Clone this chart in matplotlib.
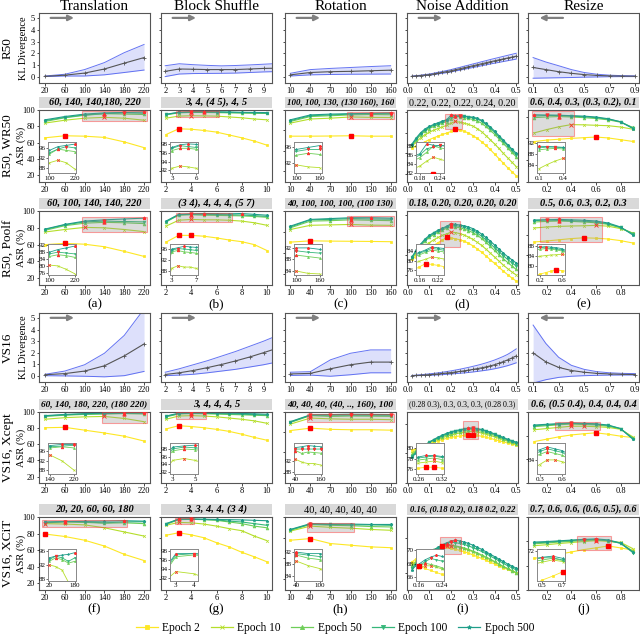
import numpy as np
import matplotlib
matplotlib.use("Agg")
import matplotlib.pyplot as plt
from matplotlib.patches import Rectangle
from matplotlib.lines import Line2D

plt.rcParams['font.family'] = ['Liberation Serif', 'DejaVu Serif']

# ---- x values per transform ----
trans_x = [20, 60, 100, 140, 180, 220]
block_x = [2, 3, 4, 5, 6, 7, 8, 9, 10]
rot_x = [10, 40, 70, 100, 130, 160]
noise_x = [0.02, 0.04, 0.06, 0.08, 0.10, 0.12, 0.14, 0.16, 0.18, 0.20, 0.22, 0.24, 0.26,
           0.28, 0.30, 0.32, 0.34, 0.36, 0.38, 0.40, 0.42, 0.44, 0.46, 0.48, 0.50]
resize_x = [0.1, 0.2, 0.3, 0.4, 0.5, 0.6, 0.7, 0.8, 0.9]

titles = ["Translation", "Block Shuffle", "Rotation", "Noise Addition", "Resize"]
epochs = ["Epoch 2", "Epoch 10", "Epoch 50", "Epoch 100", "Epoch 500"]

# ---- KL divergence: [mean, upper, lower] ----
kl_r50_trans = [[0.02, 0.12, 0.3, 0.65, 1.15, 1.63],
                [0.05, 0.2, 0.6, 1.2, 2.05, 2.75],
                [0.0, 0.05, 0.05, 0.15, 0.35, 0.56]]
kl_r50_block = [[0.45, 0.65, 0.63, 0.6, 0.6, 0.6, 0.65, 0.7, 0.72],
                [0.93, 1.1, 1.02, 0.96, 0.92, 0.95, 1.0, 1.06, 1.12],
                [0.0, 0.22, 0.26, 0.27, 0.28, 0.3, 0.35, 0.4, 0.43]]
kl_r50_rot = [[0.15, 0.35, 0.42, 0.45, 0.5, 0.55],
              [0.28, 0.6, 0.7, 0.78, 0.86, 0.93],
              [0.05, 0.15, 0.18, 0.2, 0.21, 0.22]]
kl_r50_noise = [[0.02, 0.06, 0.09, 0.13, 0.17, 0.23, 0.3, 0.36, 0.43, 0.5, 0.59, 0.67, 0.76,
                 0.84, 0.93, 1.01, 1.1, 1.18, 1.27, 1.35, 1.43, 1.51, 1.59, 1.67, 1.75],
                [0.04, 0.08, 0.12, 0.17, 0.22, 0.29, 0.37, 0.44, 0.52, 0.6, 0.7, 0.79, 0.89,
                 0.98, 1.08, 1.17, 1.27, 1.36, 1.46, 1.55, 1.64, 1.73, 1.82, 1.91, 2.0],
                [0.0, 0.04, 0.06, 0.09, 0.12, 0.17, 0.23, 0.28, 0.34, 0.4, 0.48, 0.55, 0.63,
                 0.7, 0.78, 0.85, 0.93, 1.0, 1.08, 1.15, 1.22, 1.29, 1.36, 1.43, 1.5]]
kl_r50_resize = [[0.78, 0.6, 0.42, 0.28, 0.17, 0.1, 0.06, 0.04, 0.03],
                 [1.63, 1.25, 0.93, 0.6, 0.35, 0.2, 0.12, 0.08, 0.06],
                 [-0.14, -0.12, -0.1, -0.08, -0.05, -0.03, -0.01, 0.0, 0.0]]

kl_vs16_trans = [[0.08, 0.18, 0.4, 0.86, 1.72, 2.76],
                 [0.12, 0.4, 0.95, 1.95, 3.5, 5.8],
                 [0.0, -0.02, -0.05, -0.1, 0.0, 0.37]]
kl_vs16_block = [[0.1, 0.25, 0.45, 0.7, 0.97, 1.28, 1.62, 2.0, 2.4],
                 [0.3, 0.6, 0.95, 1.3, 1.7, 2.1, 2.55, 3.0, 3.5],
                 [0.0, 0.05, 0.12, 0.25, 0.4, 0.55, 0.75, 0.95, 1.2]]
kl_vs16_rot = [[0.15, 0.2, 0.6, 0.95, 1.18, 1.18],
               [0.3, 0.35, 1.38, 1.95, 2.24, 2.24],
               [0.02, 0.05, -0.05, 0.08, 0.25, 0.25]]
kl_vs16_noise = [[0.0, 0.02, 0.04, 0.06, 0.09, 0.12, 0.15, 0.19, 0.23, 0.27, 0.32, 0.37, 0.42,
                  0.48, 0.54, 0.61, 0.68, 0.76, 0.85, 0.95, 1.08, 1.22, 1.37, 1.54, 1.72],
                 [0.02, 0.05, 0.08, 0.12, 0.16, 0.2, 0.25, 0.3, 0.36, 0.42, 0.49, 0.56, 0.64,
                  0.72, 0.81, 0.9, 1.0, 1.11, 1.23, 1.36, 1.51, 1.67, 1.85, 2.08, 2.33],
                 [0.0, 0.0, 0.01, 0.02, 0.03, 0.05, 0.07, 0.09, 0.12, 0.15, 0.18, 0.21, 0.24,
                  0.28, 0.32, 0.37, 0.42, 0.47, 0.53, 0.6, 0.68, 0.77, 0.87, 0.99, 1.12]]
kl_vs16_resize = [[1.98, 1.2, 0.72, 0.45, 0.3, 0.2, 0.15, 0.12, 0.1],
                  [4.4, 2.8, 1.6, 0.9, 0.55, 0.35, 0.25, 0.2, 0.18],
                  [-0.65, -0.35, -0.15, -0.05, 0.0, 0.03, 0.05, 0.06, 0.06]]

# ---- ASR (%) per epoch: [E2, E10, E50, E100, E500] ----
wr50_trans = [[66, 68.5, 68, 66.5, 61, 54],
              [84, 87.5, 90, 91, 90, 87.5],
              [86, 90.5, 93.5, 95.5, 95, 94.5],
              [87, 91, 94, 95.5, 96.5, 96],
              [88, 92, 95, 96.5, 97, 97.5]]
wr50_block = [[70, 77, 76.5, 75, 73, 69.5, 66, 62, 57],
              [90, 92.5, 93, 92.8, 92.5, 91.5, 90.5, 89, 88],
              [94, 96.5, 97, 97, 96.8, 96.5, 96.2, 96, 95.8],
              [94.5, 97, 97.6, 97.4, 97.2, 97, 96.8, 96.5, 96.2],
              [94.8, 97.2, 97.8, 98, 97.9, 97.6, 97.2, 97, 96.8]]
wr50_rot = [[68, 68, 68.2, 68.5, 68, 68],
            [84, 89, 90, 91.5, 91, 90.8],
            [86, 92, 93, 94, 94.5, 94.2],
            [87, 93, 94, 95, 95.5, 95.5],
            [88, 94, 95, 95.5, 96, 96.5]]
wr50_noise = [[72.5, 73.5, 74.6, 75.6, 76.6, 77.5, 78.3, 79.1, 79.8, 80.6, 81.6, 81.2, 80.7,
               79.8, 78.6, 77.2, 75.6, 73.8, 71.8, 69.6, 67.4, 65.2, 63, 61, 59],
              [73.5, 75.5, 77.5, 79, 80.2, 81.2, 82, 82.8, 83.5, 84.6, 85.5, 85, 84.6,
               84, 83.2, 82, 80.5, 78.6, 76.6, 74.5, 72.3, 70, 67.8, 65.6, 63.5],
              [74, 76.5, 79, 80.8, 82, 83, 83.8, 84.6, 85.4, 86.6, 88, 87.6, 87.3,
               86.9, 86.4, 85.7, 84.6, 83, 81.2, 79.2, 77, 74.8, 72.6, 70.4, 68.2],
              [74, 77, 79.5, 81.3, 82.6, 83.6, 84.4, 85.2, 86, 87.4, 87.8, 88.2, 88,
               87.6, 87.2, 86.6, 85.6, 84, 82.2, 80.2, 78, 75.8, 73.6, 71.4, 69.2],
              [74.5, 77.5, 80, 81.8, 83, 84, 84.8, 85.6, 86.3, 88.5, 88.2, 88.1, 88,
               87.8, 87.5, 87, 86, 84.5, 82.8, 80.8, 78.6, 76.4, 74.2, 72, 70]]
wr50_resize = [[78.5, 79.2, 79.6, 80, 80.3, 80.6, 80.2, 79.4, 78.6],
               [82.5, 84, 85.3, 86.3, 86.2, 86, 85.8, 85.2, 84.2],
               [89.5, 89.8, 90, 89.8, 89.5, 89.1, 88.5, 87.4, 85],
               [90.2, 90.5, 90.5, 90.2, 89.9, 89.5, 88.8, 87.6, 84.8],
               [90.8, 90.7, 90.6, 90.4, 90.2, 89.8, 89, 87.6, 84.5]]

poolf_trans = [[60, 61.5, 60.5, 57.5, 52, 46],
               [75, 78, 80.5, 80, 78, 75.5],
               [77, 82.5, 85.5, 86.5, 86, 85],
               [78, 83.5, 87, 88, 87.5, 87],
               [78.5, 84, 88, 89.5, 90.5, 91.5]]
poolf_block = [[63, 71, 71, 70, 68, 65.5, 63.5, 60, 53],
               [82, 89, 90, 89.5, 89.5, 89, 88, 86, 83],
               [87, 95, 95.5, 95, 94.8, 94.5, 94.2, 93.5, 92.5],
               [87.5, 95.5, 96.2, 96, 95.8, 95.5, 95.2, 94.5, 93.5],
               [88, 96, 96.5, 97, 96.8, 96.6, 97, 96, 95]]
poolf_rot = [[63, 64.5, 64.2, 64, 63.8, 63.5],
             [78, 83, 83.5, 84, 83.2, 83],
             [80, 88, 88.5, 89.5, 89, 88.5],
             [81, 89.5, 90, 91, 90.5, 90.2],
             [82, 90, 91, 92, 92, 91.5]]
poolf_noise = [[68, 69.2, 70.6, 72, 73.4, 74.8, 76.2, 77.5, 78.8, 78.5, 78.1, 77.6, 76.9,
                75.9, 74.6, 73.1, 71.4, 69.6, 67.7, 65.8, 63.9, 62, 60.2, 58.5, 57],
               [68.5, 70.5, 72.6, 74.6, 76.2, 77.6, 78.8, 79.8, 80.6, 81.5, 81.2, 80.7, 80,
                79, 77.8, 76.4, 74.8, 73, 71, 69, 67, 65, 63.2, 61.5, 60],
               [69, 71.6, 74.5, 77, 78.8, 80.2, 81.4, 82.4, 83.4, 84.3, 84, 83.6, 83,
                82.2, 81.2, 79.9, 78.3, 76.4, 74.4, 72.3, 70.2, 68.2, 66.3, 64.5, 62.8],
               [69, 72, 75, 77.5, 79.3, 80.8, 82, 83, 84, 85, 84.7, 84.3, 83.8,
                83.1, 82.2, 81, 79.4, 77.6, 75.7, 73.7, 71.7, 69.7, 67.8, 66.1, 64.5],
               [69, 72.5, 75.5, 78, 79.8, 81.2, 82.4, 83.4, 84.4, 85.6, 85.3, 85, 84.6,
                84, 83.2, 82, 80.5, 78.8, 77, 75, 73, 71, 69.2, 67.6, 66]]
poolf_resize = [[76.5, 77, 77.6, 78.2, 78.6, 78.4, 78, 77.2, 76],
                [83.5, 84, 84.3, 84.5, 84.6, 84.8, 84.4, 83.2, 81],
                [86.5, 86.8, 87, 86.8, 86.5, 86.1, 85.3, 83.6, 80.8],
                [87.2, 87.5, 87.3, 87.1, 86.9, 86.5, 85.6, 83.8, 80.5],
                [87.5, 87.6, 87.8, 87.6, 87.4, 87, 86, 84, 80]]

xcept_trans = [[80.5, 81, 77.5, 74, 70, 64],
               [91, 93, 94, 94.5, 92, 88],
               [94.5, 96, 97, 97.5, 98, 97.5],
               [95, 96.5, 97.5, 98, 98.3, 98.6],
               [95.5, 97, 98, 98.5, 99, 99]]
xcept_block = [[79, 83, 82, 80.5, 78.5, 76, 72.5, 68.5, 65],
               [91, 95, 95.5, 95, 94, 92.5, 91, 89, 86],
               [94, 97.5, 98, 97.8, 97.5, 97, 96.5, 96, 95.5],
               [94.5, 98, 98.5, 98.3, 98, 97.6, 97.2, 96.8, 96.2],
               [95, 98.5, 98.8, 99, 98.8, 98.5, 98.2, 97.8, 97.2]]
xcept_rot = [[77, 80, 78.5, 78, 78, 77.5],
             [85, 92.5, 91.5, 91, 91, 90.5],
             [87, 95.5, 94.5, 95, 94.8, 94.6],
             [87.5, 96, 96, 96, 96, 96],
             [88, 96.5, 96.8, 97.2, 97, 96.8]]
xcept_noise = [[71, 71.6, 72.2, 72.8, 73.3, 73.8, 74.3, 74.7, 75.1, 75.4, 75.7, 75.9, 76.1,
                76.3, 76.3, 76.1, 75.8, 75.5, 75.1, 74.7, 74.3, 73.9, 73.5, 73.2, 72.9],
               [70.2, 71.2, 72.1, 72.9, 73.6, 74.2, 74.8, 75.3, 75.8, 76.2, 76.6, 76.9, 77.1,
                77.3, 77.5, 77.2, 76.9, 76.5, 76.1, 75.6, 75.1, 74.6, 74.1, 73.6, 73.2],
               [69.6, 70.8, 71.9, 72.9, 73.8, 74.5, 75.1, 75.7, 76.2, 76.7, 77.1, 77.4, 77.7,
                77.9, 78.1, 77.8, 77.5, 77.1, 76.6, 76.1, 75.5, 74.9, 74.3, 73.8, 73.3],
               [69.2, 70.5, 71.7, 72.8, 73.8, 74.6, 75.3, 76, 76.6, 77.1, 77.5, 77.8, 78.1,
                78.3, 78.5, 78.2, 77.9, 77.5, 77, 76.4, 75.8, 75.2, 74.6, 74.1, 73.6],
               [68.8, 70.2, 71.5, 72.7, 73.8, 74.7, 75.5, 76.2, 76.8, 77.3, 77.7, 78.0, 78.3,
                78.6, 78.6, 78.4, 78.1, 77.7, 77.2, 76.6, 76.0, 75.4, 74.8, 74.3, 73.8]]
xcept_resize = [[77.5, 78.5, 79.5, 80.3, 80.8, 81.2, 80.6, 79.8, 79.2],
                [82.5, 83, 83.5, 84, 84, 83.8, 83.5, 82.7, 79.5],
                [83.8, 84.2, 84.6, 84.9, 84.7, 84.5, 84, 82.9, 79],
                [84.2, 84.5, 84.9, 85.2, 85, 84.8, 84.3, 83, 78.8],
                [84.5, 84.8, 85.1, 85.4, 85.2, 85, 84.5, 83, 78.5]]

xcit_trans = [[79.5, 76.5, 72, 65, 55, 47.5],
              [92, 91.5, 90.5, 87, 82, 77],
              [93, 94, 93.5, 92.5, 93, 92],
              [93.5, 94.5, 94, 93, 94, 94.3],
              [94, 94.5, 94.8, 95, 95.5, 95]]
xcit_block = [[78, 81, 78.5, 75, 69, 64, 57.5, 52, 46],
              [90, 93.5, 93, 91.5, 89, 86, 83.5, 77, 71.5],
              [91, 96.8, 97.2, 96.8, 96, 94, 92, 89, 87],
              [91.5, 97.2, 97.5, 97, 96.5, 95, 94, 92, 90],
              [92, 97.5, 97.5, 97.3, 97, 96.8, 96.5, 96, 95.5]]
xcit_rot = [[72, 74, 68, 66, 64, 63],
            [83, 89, 87.5, 86.5, 85, 84],
            [84, 91, 90, 89.5, 88.5, 88],
            [84.5, 91.5, 91, 90.5, 90.5, 90],
            [85, 92, 91.5, 91.5, 91, 91]]
xcit_noise = [[63.1, 64, 64.8, 65.5, 66.1, 66.6, 67, 67.6, 67.3, 67, 66.7, 66.4, 66,
               65.6, 65.1, 64.6, 64.1, 63.6, 63, 62.5, 61.9, 61.4, 60.9, 60.4, 59.9],
              [62.3, 63.4, 64.4, 65.2, 65.9, 66.5, 67, 67.4, 67.7, 67.7, 67.5, 67.2, 66.9,
               66.5, 66, 65.5, 64.9, 64.3, 63.7, 63, 62.3, 61.7, 61.1, 60.5, 60],
              [61.8, 63, 64.1, 65, 65.8, 66.5, 67.1, 67.6, 68.1, 67.9, 67.7, 67.4, 67.1,
               66.7, 66.2, 65.7, 65.1, 64.5, 63.9, 63.2, 62.5, 61.8, 61.2, 60.6, 60],
              [61.3, 62.6, 63.8, 64.8, 65.7, 66.5, 67.2, 67.8, 68.3, 68.8, 68.6, 68.4, 68.1,
               67.7, 67.2, 66.7, 66.1, 65.5, 64.8, 64.1, 63.4, 62.7, 62, 61.4, 60.8],
              [60.8, 62.2, 63.5, 64.6, 65.6, 66.5, 67.3, 68, 68.6, 69.0, 69.3, 69.1, 68.8,
               68.4, 67.9, 67.3, 66.7, 66, 65.3, 64.6, 63.9, 63.2, 62.5, 61.9, 61.3]]
xcit_resize = [[63, 63.8, 64.7, 65.6, 66.6, 67.3, 68.1, 67.3, 66.4],
               [68.2, 68.6, 69.1, 69.5, 69.9, 70.3, 70, 69.6, 67],
               [69, 69.3, 69.7, 70, 70.3, 70.6, 70.2, 69.3, 66],
               [69.4, 69.6, 70, 70.3, 70.7, 70.7, 70.3, 69.2, 65.4],
               [69.7, 69.9, 70.2, 70.5, 70.8, 71, 70.6, 69.3, 65.6]]

# best-setting banners above each ASR row (text, bold-italic?)
banners_wr50 = [("60, 140, 140,180, 220", True), ("3, 4, (4 5), 4, 5", True),
                ("100, 100, 130, (130 160), 160", True), ("0.22, 0.22, 0.22, 0.24, 0.20", False),
                ("0.6, 0.4, 0.3, (0.3, 0.2), 0.1", True)]
banners_poolf = [("60, 100, 140, 140, 220", True), ("(3 4), 4, 4, 4, (5 7)", True),
                 ("40, 100, 100, 100, (100 130)", True), ("0.18, 0.20, 0.20, 0.20, 0.20", True),
                 ("0.5, 0.6, 0.3, 0.2, 0.3", True)]
banners_xcept = [("60, 140, 180, 220, (180 220)", True), ("3, 4, 4, 4, 5", True),
                 ("40, 40, 40, (40, .., 160), 100", True), ("(0.28 0.3), 0.3, 0.3, 0.3, (0.28 0.3)", False),
                 ("0.6, (0.5 0.4), 0.4, 0.4, 0.4", True)]
banners_xcit = [("20, 20, 60, 60, 180", True), ("3, 3, 4, 4, (3 4)", True),
                ("40, 40, 40, 40, 40", False), ("0.16, (0.18 0.2), 0.18 0.2, 0.22", True),
                ("0.7, 0.6, 0.6, (0.6, 0.5), 0.6", True)]

# zoomed inset windows: (xlim, ylim, xticks, yticks)
insets_wr50 = [((95, 225), (86, 98.5), [100, 220], [88, 92, 96]),
               ((2.8, 6.2), (91.5, 98.5), [3, 6], [92, 94, 96, 98]),
               ((95, 165), (89.5, 97.5), [100, 160], [92, 96]),
               ((0.17, 0.25), (82, 89), [0.18, 0.24], [82, 84, 86, 88]),
               ((0.08, 0.42), (81, 92.5), [0.1, 0.4], [84, 88, 92])]
insets_poolf = [((95, 225), (74.5, 93), [100, 220], [76, 80, 84, 88, 92]),
                ((2.8, 7.2), (86.5, 98), [3, 7], [88, 92, 96]),
                ((95, 165), (82.5, 93.5), [100, 160], [84, 88, 92]),
                ((0.15, 0.24), (74, 87), [0.16, 0.22], [76, 80, 84]),
                ((0.15, 0.65), (76.5, 89), [0.2, 0.6], [80, 84, 88])]
insets_xcept = [((135, 225), (86.5, 99.5), [140, 220], [88, 92, 96]),
                ((2.8, 5.2), (91.5, 99.5), [3, 5], [92, 94, 96, 98]),
                ((35, 165), (87.5, 98), [40, 160], [88, 92]),
                ((0.255, 0.325), (75, 81), [0.26, 0.32], [76, 78, 80]),
                ((0.27, 0.63), (82.5, 85.8), [0.3, 0.6], [84])]
insets_xcit = [((15, 185), (87.5, 96.5), [20, 180], [88, 92, 96]),
               ((2.7, 4.2), (91.5, 98.5), [3, 4], [92, 94, 96, 98]),
               ((35, 105), (82.5, 93), [40, 100], [84, 88, 92]),
               ((0.15, 0.245), (65.5, 70.2), [0.16, 0.24], [66, 68, 70]),
               ((0.45, 0.72), (66.5, 72.3), [0.5, 0.7], [72])]

colors = ['#fde725', '#b5de2b', '#6ece58', '#35b779', '#1f9e89']
markers = ['s', 'x', '^', 'v', '*']
xs = [trans_x, block_x, rot_x, noise_x, resize_x]

kl_xlim = [(8, 232), (1.7, 9.6), (2, 168), (-0.003, 0.508), (0.06, 0.93)]
kl_xticks = [[20, 60, 100, 140, 180, 220], [2, 3, 4, 5, 6, 7, 8, 9],
             [10, 40, 70, 100, 130, 160], [0.0, 0.1, 0.2, 0.3, 0.4, 0.5], [0.1, 0.3, 0.5, 0.7, 0.9]]
kl_xlabels = [None, None, None, ['0.0', '0.1', '0.2', '0.3', '0.4', '0.5'], None]
asr_xlim = [(8, 232), (1.6, 10.4), (2, 168), (-0.003, 0.508), (0.05, 0.95)]
asr_xticks = [[20, 60, 100, 140, 180, 220], [2, 4, 6, 8, 10],
              [10, 40, 70, 100, 130, 160], [0.0, 0.1, 0.2, 0.3, 0.4, 0.5], [0.2, 0.4, 0.6, 0.8]]

W, H = 640, 636
col_left = [39, 161, 285, 407, 528]
col_w = 111
fig = plt.figure(figsize=(W / 100, H / 100), dpi=100)
banner_texts = []


def make_ax(c, top, bot):
    return fig.add_axes([col_left[c] / W, 1 - bot / H, col_w / W, (bot - top) / H])


def style(ax, fs=6):
    ax.tick_params(labelsize=fs, length=1.8, width=0.5, pad=1)
    for s in ax.spines.values():
        s.set_color('#555555')
        s.set_linewidth(0.8)


def kl_row(top, bot, data, rowname):
    for c in range(5):
        ax = make_ax(c, top, bot)
        mean, hi, lo = data[c]
        x = xs[c]
        ax.fill_between(x, lo, hi, color='#5566ee', alpha=0.2, lw=0)
        ax.plot(x, hi, color='#4a5cf0', lw=0.7, alpha=0.85)
        ax.plot(x, lo, color='#4a5cf0', lw=0.7, alpha=0.85)
        ax.plot(x, mean, color='#555555', lw=0.8, marker='+', ms=2.5, mew=0.6)
        ax.set_xlim(kl_xlim[c])
        ax.set_ylim(-0.55, 5.45)
        ax.set_xticks(kl_xticks[c])
        if kl_xlabels[c]:
            ax.set_xticklabels(kl_xlabels[c])
        ax.set_yticks([0, 1, 2, 3, 4, 5])
        if c > 0:
            ax.set_yticklabels([])
        style(ax)
        if c == 4:
            ax.annotate('', xy=(0.08, 0.93), xytext=(0.34, 0.93), xycoords='axes fraction',
                        arrowprops=dict(arrowstyle='-|>', color='gray', lw=1.6, mutation_scale=8))
        else:
            ax.annotate('', xy=(0.34, 0.93), xytext=(0.08, 0.93), xycoords='axes fraction',
                        arrowprops=dict(arrowstyle='-|>', color='gray', lw=1.6, mutation_scale=8))
    yc = 1 - (top + bot) / 2 / H
    fig.text(8 / W, yc, rowname, rotation=90, fontsize=9.5, ha='center', va='center')
    fig.text(24 / W, yc, 'KL Divergence', rotation=90, fontsize=7.5, ha='center', va='center')


def draw_series(ax, x, series, lw, ms, red_ms):
    x = np.asarray(x)
    for k, s in enumerate(series):
        ax.plot(x, s, color=colors[k], marker=markers[k], lw=lw, ms=ms, mew=0.5)
    for k, s in enumerate(series):
        s = np.asarray(s)
        best = np.isclose(s, s.max())
        if k == 0:
            ax.plot(x[best], s[best], ls='none', marker='s', ms=red_ms * 1.5, color='red', zorder=6)
        else:
            ax.plot(x[best], s[best], ls='none', marker=markers[k], ms=red_ms, mew=0.6,
                    color='#ff3030', zorder=6)


def asr_row(top, bot, data, ylims, banners, insets, rowname, letters=None):
    for c in range(5):
        ax = make_ax(c, top, bot)
        x = xs[c]
        draw_series(ax, x, data[c], 0.8, 2, 2.4)
        ax.set_xlim(asr_xlim[c])
        ax.set_ylim(ylims[c])
        ax.set_xticks(asr_xticks[c])
        if c == 3:
            ax.set_xticklabels(['0.0', '0.1', '0.2', '0.3', '0.4', '0.5'])
        if c == 0:
            ax.set_yticks([20, 40, 60, 80, 100])
        else:
            ax.set_yticklabels([])
        style(ax)
        (ix0, ix1), (iy0, iy1), ixt, iyt = insets[c]
        ax.add_patch(Rectangle((ix0, iy0), ix1 - ix0, iy1 - iy0, fc=(0.55, 0.55, 0.55, 0.3),
                               ec=(1, 0.2, 0.2, 0.45), lw=0.8, zorder=4))
        ins = ax.inset_axes([0.085, 0.13, 0.245, 0.43])
        draw_series(ins, x, data[c], 0.6, 1.4, 1.8)
        ins.set_xlim(ix0, ix1)
        ins.set_ylim(iy0, iy1)
        ins.set_xticks(ixt)
        ins.set_yticks(iyt)
        ins.tick_params(labelsize=5, length=1.5, width=0.4, pad=0.6)
        for s in ins.spines.values():
            s.set_color('#888888')
            s.set_linewidth(0.7)
        text, bold = banners[c]
        ax.add_patch(Rectangle((0, 1.03), 1, 0.15, transform=ax.transAxes, fc='#d9d9d9',
                               ec='none', clip_on=False))
        t = ax.text(0.5, 1.105, text, transform=ax.transAxes, ha='center', va='center',
                    fontsize=7.5, fontweight='bold' if bold else 'normal',
                    fontstyle='italic' if bold else 'normal')
        banner_texts.append((t, ax))
        if letters:
            fig.text((col_left[c] + col_w / 2) / W, 1 - (bot + 19) / H, letters[c],
                     fontsize=9.5, ha='center', va='center')
    yc = 1 - (top + bot) / 2 / H
    fig.text(8 / W, yc, rowname, rotation=90, fontsize=9.5, ha='center', va='center')
    fig.text(21 / W, yc, 'ASR (%)', rotation=90, fontsize=7.5, ha='center', va='center')


for c in range(5):
    fig.text((col_left[c] + col_w / 2) / W, 1 - 6 / H, titles[c], fontsize=11, ha='center', va='center')

kl_row(13, 83, [kl_r50_trans, kl_r50_block, kl_r50_rot, kl_r50_noise, kl_r50_resize], 'R50')
asr_row(110, 182, [wr50_trans, wr50_block, wr50_rot, wr50_noise, wr50_resize],
        [(12, 100), (12, 100), (12, 100), (56, 91), (60, 93)],
        banners_wr50, insets_wr50, 'R50, WR50')
asr_row(211, 285, [poolf_trans, poolf_block, poolf_rot, poolf_noise, poolf_resize],
        [(12, 100), (12, 100), (12, 100), (55, 92), (55, 92)],
        banners_poolf, insets_poolf, 'R50, Poolf', ['(a)', '(b)', '(c)', '(d)', '(e)'])
kl_row(313, 382, [kl_vs16_trans, kl_vs16_block, kl_vs16_rot, kl_vs16_noise, kl_vs16_resize], 'VS16')
asr_row(412, 483, [xcept_trans, xcept_block, xcept_rot, xcept_noise, xcept_resize],
        [(12, 100), (12, 100), (12, 100), (60, 84), (60, 90)],
        banners_xcept, insets_xcept, 'VS16, Xcept')
asr_row(517, 590, [xcit_trans, xcit_block, xcit_rot, xcit_noise, xcit_resize],
        [(12, 100), (12, 100), (12, 100), (55, 76), (50, 80)],
        banners_xcit, insets_xcit, 'VS16, XCiT', ['(f)', '(g)', '(h)', '(i)', '(j)'])

handles = [Line2D([], [], color=colors[k], marker=markers[k], lw=0.9, ms=3, mew=0.6)
           for k in range(5)]
fig.legend(handles, epochs, ncol=5, loc='center', bbox_to_anchor=(335 / W, 1 - 628 / H),
           frameon=False, fontsize=8.3, handlelength=1.9, columnspacing=0.9, handletextpad=0.4,
           borderaxespad=0, borderpad=0)

# shrink banner texts that would run past their grey strip
fig.canvas.draw()
renderer = fig.canvas.get_renderer()
for t, ax in banner_texts:
    tw = t.get_window_extent(renderer).width
    aw = ax.get_window_extent(renderer).width
    if tw > 0.96 * aw:
        t.set_fontsize(t.get_fontsize() * 0.96 * aw / tw)

fig.savefig('out.png', dpi=100)
